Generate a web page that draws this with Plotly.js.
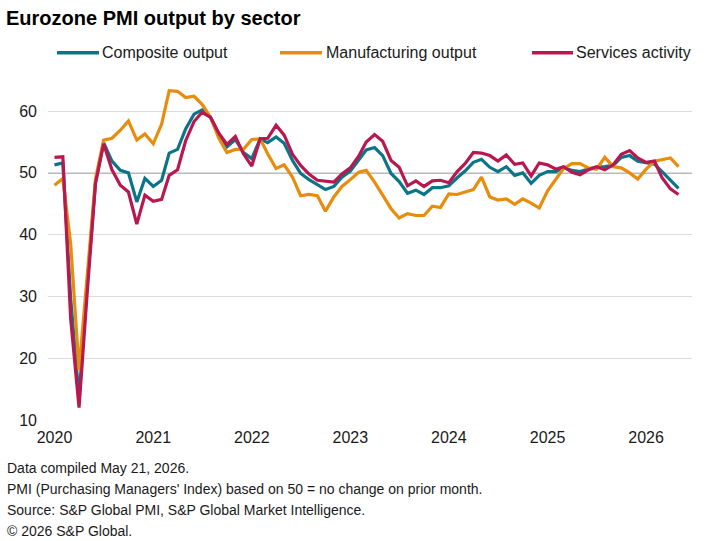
<!DOCTYPE html>
<html>
<head>
<meta charset="utf-8">
<script src="https://cdn.plot.ly/plotly-3.0.1.min.js"></script>
<style>
  html, body { margin: 0; padding: 0; background: #ffffff; }
  #chart { width: 714px; height: 541px; }
</style>
</head>
<body>
<div id="chart"></div>
<script>
// ---- Data (monthly, Jan 2020 – May 2026) ----
const startYear = 2020;
const startMonth = 1;
const nMonths = 77;

const composite = [
  51.3, 51.6, 29.7, 13.6, 31.9, 48.5, 54.9, 51.9, 50.4, 50.0, 45.3, 49.1,
  47.8, 48.8, 53.2, 53.8, 57.1, 59.5, 60.2, 59.0, 56.2, 54.2, 55.4, 53.3,
  52.3, 55.5, 54.9, 55.8, 54.8, 52.0, 49.9, 48.9, 48.1, 47.3, 47.8, 49.3,
  50.3, 52.0, 53.7, 54.1, 52.8, 49.9, 48.6, 46.7, 47.2, 46.5, 47.6, 47.6,
  47.9, 49.2, 50.3, 51.7, 52.2, 50.9, 50.2, 51.0, 49.6, 50.0, 48.3, 49.6,
  50.2, 50.2, 50.9, 50.4, 50.2, 50.6, 50.9, 51.0, 51.2, 52.5, 52.8, 51.9,
  51.7, 51.4, 50.2, 48.8, 47.5
];

const manufacturing = [
  48.0, 49.1, 38.5, 18.1, 33.2, 49.0, 55.3, 55.6, 56.9, 58.4, 55.3, 56.3,
  54.7, 57.9, 63.3, 63.2, 62.2, 62.4, 61.1, 59.0, 55.6, 53.3, 53.8, 53.8,
  55.4, 55.5, 53.1, 50.7, 51.3, 49.3, 46.3, 46.5, 46.3, 43.8, 46.1, 47.8,
  48.9, 50.1, 50.4, 48.5, 46.4, 44.2, 42.7, 43.4, 43.1, 43.1, 44.6, 44.4,
  46.6, 46.5, 46.9, 47.3, 49.3, 46.1, 45.6, 45.8, 44.9, 45.8, 45.1, 44.3,
  47.1, 48.9, 50.7, 51.5, 51.5, 50.8, 50.6, 52.5, 51.0, 50.8, 50.0, 49.0,
  50.6, 51.9, 52.1, 52.4, 51.0
];

const services = [
  52.5, 52.6, 26.4, 12.0, 30.5, 48.3, 54.7, 50.5, 48.0, 46.9, 41.7, 46.4,
  45.4, 45.7, 49.6, 50.5, 55.2, 58.3, 59.8, 59.0, 56.4, 54.6, 55.9, 53.1,
  51.1, 55.5, 55.6, 57.7, 56.1, 53.0, 51.2, 49.8, 48.8, 48.6, 48.5, 49.8,
  50.8, 52.7, 55.0, 56.2, 55.1, 52.0, 50.9, 47.9, 48.7, 47.8, 48.7, 48.8,
  48.4, 50.2, 51.5, 53.3, 53.2, 52.8, 51.9, 52.9, 51.4, 51.6, 49.5, 51.6,
  51.3, 50.6, 51.0, 50.1, 49.7, 50.5, 51.0, 50.5, 51.3, 53.0, 53.6, 52.4,
  51.7, 51.9, 49.2, 47.4, 46.5
];

const seriesNames = ['Composite output', 'Manufacturing output', 'Services activity'];
const yearTicks = ['2020', '2021', '2022', '2023', '2024', '2025', '2026'];
const yTicks = [10, 20, 30, 40, 50, 60];
const footerLines = [
  'Data compiled May 21, 2026.',
  "PMI (Purchasing Managers' Index) based on 50 = no change on prior month.",
  'Source: S&P Global PMI, S&P Global Market Intelligence.',
  '© 2026 S&P Global.'
];
const chartTitle = 'Eurozone PMI output by sector';

// ---- Build month dates ----
const months = [];
for (let i = 0; i < nMonths; i++) {
  const m = startMonth - 1 + i;
  const y = startYear + Math.floor(m / 12);
  const mm = (m % 12) + 1;
  months.push(y + '-' + String(mm).padStart(2, '0') + '-01');
}

// ---- Styles ----
const colors = ['#0c7489', '#e88c0e', '#b8184f'];
const lineWidth = 3.2;
const FONT = 'Liberation Sans, Arial, sans-serif';
const textColor = '#1a1a1a';

// plot area geometry in pixels (for placing outside text)
const W = 714, H = 541;
const M = { l: 48, r: 22, t: 74, b: 121 };
const pw = W - M.l - M.r, ph = H - M.t - M.b;
const px = x => (x - M.l) / pw;
const py = y => (H - M.b - y) / ph;

const allSeries = [composite, manufacturing, services];
const traces = allSeries.map((vals, i) => ({
  type: 'scatter',
  mode: 'lines',
  x: months,
  y: vals,
  name: seriesNames[i],
  line: { color: colors[i], width: lineWidth },
  showlegend: false,
  hoverinfo: 'x+y+name'
}));

// custom legend
const legendLineX = [[57, 99], [280, 322], [532, 573]];
const legendTextX = [99.5, 323.5, 574];
const legendY = 52.7;

const shapes = [{
  type: 'line', xref: 'paper', x0: 0, x1: 1, yref: 'y', y0: 50, y1: 50,
  line: { color: '#a3a3a3', width: 1.6 }, layer: 'below'
}];
legendLineX.forEach((pair, i) => {
  shapes.push({
    type: 'line', xref: 'paper', yref: 'paper',
    x0: px(pair[0]), x1: px(pair[1]), y0: py(legendY), y1: py(legendY),
    line: { color: colors[i], width: 3.4 }
  });
});

const annotations = [];
seriesNames.forEach((name, i) => {
  annotations.push({
    xref: 'paper', yref: 'paper', x: px(legendTextX[i]), y: py(legendY),
    xanchor: 'left', yanchor: 'middle', showarrow: false, text: name,
    font: { family: FONT, size: 16, color: textColor }
  });
});
const footerY = [468, 489, 510, 531];
footerLines.forEach((t, i) => {
  annotations.push({
    xref: 'paper', yref: 'paper', x: px(5), y: py(footerY[i]),
    xanchor: 'left', yanchor: 'middle', showarrow: false, text: t,
    font: { family: FONT, size: 14, color: textColor }
  });
});

const layout = {
  width: W, height: H,
  margin: M,
  paper_bgcolor: '#ffffff',
  plot_bgcolor: '#ffffff',
  font: { family: FONT, size: 16, color: textColor },
  title: {
    text: chartTitle,
    font: { family: FONT, size: 20, color: '#000000', weight: 'bold' },
    xref: 'container', yref: 'container',
    x: 6 / W, xanchor: 'left',
    y: 1 - 17.5 / H, yanchor: 'middle'
  },
  xaxis: {
    type: 'date',
    range: ['2019-12-08', '2026-06-20'],
    tickvals: yearTicks.map(y => y + '-01-01'),
    ticktext: yearTicks,
    showgrid: false, zeroline: false, showline: false,
    ticks: '', ticklabelstandoff: 6,
    tickfont: { family: FONT, size: 16, color: textColor },
    fixedrange: true
  },
  yaxis: {
    range: [10, 66],
    tickvals: yTicks,
    showgrid: true, gridcolor: '#dcdcdc', gridwidth: 1,
    zeroline: false, showline: false,
    ticks: '', ticklabelstandoff: 10,
    tickfont: { family: FONT, size: 16, color: textColor },
    fixedrange: true
  },
  shapes: shapes,
  annotations: annotations,
  showlegend: false
};

Plotly.newPlot('chart', traces, layout, { displayModeBar: false, staticPlot: false });
</script>
</body>
</html>
